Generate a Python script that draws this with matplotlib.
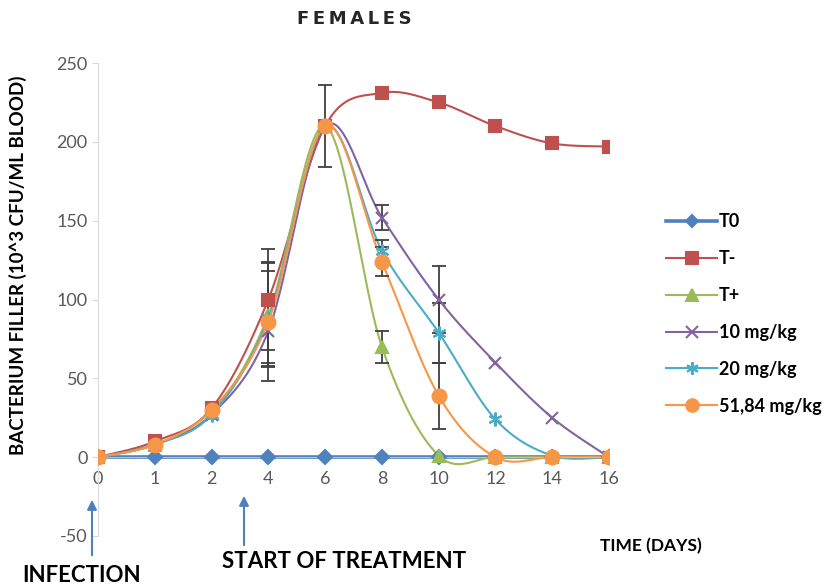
import numpy as np
import matplotlib
matplotlib.use("Agg")
import matplotlib.pyplot as plt
from matplotlib.patches import FancyArrowPatch

plt.rcParams['font.family'] = ['Lato', 'DejaVu Sans']
plt.rcParams['axes.unicode_minus'] = False

# data
days = ["0", "1", "2", "4", "6", "8", "10", "12", "14", "16"]
t0 = [0, 0, 0, 0, 0, 0, 0, 0, 0, 0]
t_minus = [0, 10, 31, 100, 210, 231, 225, 210, 199, 197]
t_plus = [0, 8, 28, 90, 210, 70, 1, 0, 0, 0]
mg10 = [0, 8, 27, 80, 210, 152, 100, 60, 25, 0]
mg20 = [0, 8, 27, 88, 210, 131, 79, 24, 1, 0]
mg51 = [0, 8, 30, 86, 210, 124, 39, 0, 0, 0]

# error bars (only where drawn in the picture)
err_minus = [0, 0, 0, 32, 0, 0, 0, 0, 0, 0]
err_plus = [0, 0, 0, 33, 0, 10, 0, 0, 0, 0]
err10 = [0, 0, 0, 20, 0, 8, 21, 0, 0, 0]
err20 = [0, 0, 0, 30, 0, 7, 19, 0, 0, 0]
err51 = [0, 0, 0, 38, 26, 9, 21, 0, 0, 0]


def smooth(x, y, n=30):
    # excel style smoothed line (bezier through the points)
    x = np.asarray(x, float)
    y = np.asarray(y, float)
    px = np.concatenate([[x[0]], x, [x[-1]]])
    py = np.concatenate([[y[0]], y, [y[-1]]])
    t = np.linspace(0, 1, n)
    xs, ys = [], []
    for i in range(1, len(px) - 2):
        p0 = np.array([px[i], py[i]])
        p3 = np.array([px[i + 1], py[i + 1]])
        c1 = p0 + (np.array([px[i + 1], py[i + 1]]) - np.array([px[i - 1], py[i - 1]])) / 6
        c2 = p3 - (np.array([px[i + 2], py[i + 2]]) - np.array([px[i], py[i]])) / 6
        b = ((1 - t) ** 3)[:, None] * p0 + (3 * (1 - t) ** 2 * t)[:, None] * c1 \
            + (3 * (1 - t) * t ** 2)[:, None] * c2 + (t ** 3)[:, None] * p3
        xs.append(b[:, 0])
        ys.append(b[:, 1])
    return np.concatenate(xs), np.concatenate(ys)


fig = plt.figure(figsize=(8.25, 5.85), dpi=100)
ax = fig.add_axes([98 / 825, 1 - 536 / 585, (609 - 98) / 825, (536 - 63) / 585])

x = np.arange(len(days))
series = [
    ("T0", t0, None, "#4F81BD", "D", 7, 2.6),
    ("T-", t_minus, err_minus, "#C0504D", "s", 9, 1.5),
    ("T+", t_plus, err_plus, "#9BBB59", "^", 9, 1.5),
    ("10 mg/kg", mg10, err10, "#8064A2", "x", 9, 1.5),
    ("20 mg/kg", mg20, err20, "#4BACC6", (6, 2, 0), 10, 1.5),
    ("51,84 mg/kg", mg51, err51, "#F79646", "o", 10, 1.5),
]

for name, vals, err, col, mk, ms, lw in series:
    sx, sy = smooth(x, vals)
    ax.plot(sx, sy, color=col, lw=lw, zorder=2)
    ax.plot(x, vals, ls="none", marker=mk, ms=ms, color=col, mec=col,
            mew=1.5, zorder=4)
    ax.plot([], [], color=col, lw=lw, marker=mk, ms=ms - 1, mew=1.5, label=name)
    if err is not None:
        e = np.array(err, float)
        m = e > 0
        ax.errorbar(x[m], np.array(vals)[m], yerr=e[m], fmt="none",
                    ecolor="#404040", elinewidth=1.3, capsize=5, capthick=1.3,
                    zorder=3)

ax.set_xlim(0, 9)
ax.set_ylim(-50, 250)
ax.set_yticks([-50, 0, 50, 100, 150, 200, 250])
ax.set_xticks(x)
ax.set_xticklabels(days)

for s in ["top", "right"]:
    ax.spines[s].set_visible(False)
ax.spines["bottom"].set_position(("data", 0))
ax.spines["bottom"].set_color("#BFBFBF")
ax.spines["left"].set_color("#D9D9D9")
ax.tick_params(axis="y", colors="#595959", labelsize=13, length=4, color="#D9D9D9")
ax.tick_params(axis="x", colors="#595959", labelsize=13, length=0, pad=10)
for lab in ax.get_yticklabels() + ax.get_xticklabels():
    lab.set_color("#595959")

ax.set_ylabel("BACTERIUM FILLER (10^3 CFU/ML BLOOD)", fontsize=13.5,
              fontweight="bold")
ax.yaxis.set_label_coords(-0.138, 0.573)

fig.text(0.43, 0.968, "F\u2009E\u2009M\u2009A\u2009L\u2009E\u2009S", ha="center",
         va="center", fontsize=13, fontweight="bold", color="#262626",
         family=["DejaVu Sans"])

leg = ax.legend(loc="upper left", bbox_to_anchor=(650 / 825, 1 - 197 / 585),
                bbox_transform=fig.transFigure, frameon=False,
                handlelength=2.8, handletextpad=0.1, labelspacing=1.1,
                prop={"weight": "bold", "size": 13})

fig.text(600 / 825, 1 - 546 / 585, "TIME (DAYS)", fontsize=12.5, fontweight="bold",
         va="center", ha="left")
fig.text(22 / 825, 1 - 575 / 585, "INFECTION", fontsize=16, fontweight="bold",
         va="center", ha="left")
fig.text(222 / 825, 1 - 562 / 585, "START OF TREATMENT", fontsize=16,
         fontweight="bold", va="center", ha="left")

for ax_x, y0, y1 in [(92, 558, 497), (244, 548, 493)]:
    arr = FancyArrowPatch((ax_x / 825, 1 - y0 / 585), (ax_x / 825, 1 - y1 / 585),
                          transform=fig.transFigure, arrowstyle="-|>",
                          mutation_scale=14, color="#4F81BD", lw=1.5)
    fig.add_artist(arr)

fig.savefig("out.png", dpi=100)
